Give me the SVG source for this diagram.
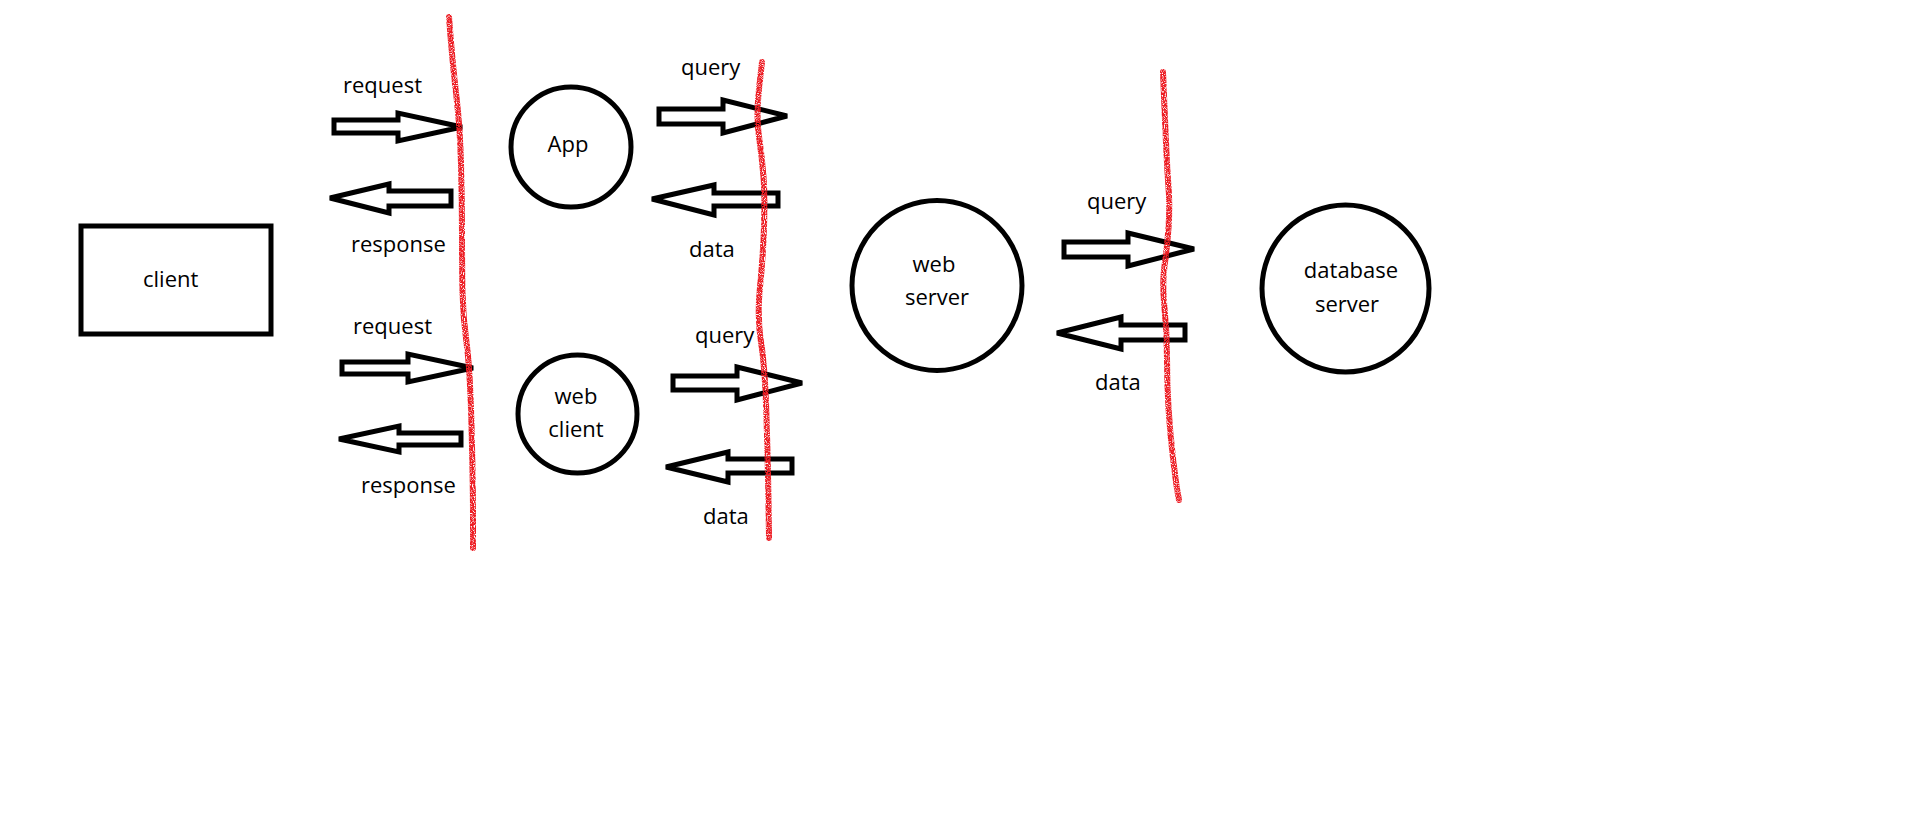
<svg xmlns="http://www.w3.org/2000/svg" width="1914" height="824" viewBox="0 0 1914 824">
<style>
  .shape { fill: #ffffff; stroke: #000000; stroke-width: 5; }
  .arrow { fill: #ffffff; stroke: #000000; stroke-width: 5; stroke-linejoin: miter; }
  .lbl { font-family: "Open Sans", "Noto Sans", sans-serif; font-size: 22px; fill: #000000; }
  .mid { text-anchor: middle; }
  .boundary { fill: none; stroke: #ed1c24; stroke-width: 6; stroke-linecap: round; stroke-linejoin: round; filter: url(#spray); }
</style>
<defs>
  <filter id="spray" x="-200%" y="-5%" width="500%" height="110%">
    <feTurbulence type="fractalNoise" baseFrequency="0.9" numOctaves="1" seed="4" result="n"/>
    <feColorMatrix in="n" type="matrix" values="0 0 0 0 0  0 0 0 0 0  0 0 0 0 0  0 0 0 -4 2.9" result="m"/>
    <feComposite in="SourceGraphic" in2="m" operator="in"/>
  </filter>
</defs>
<rect width="1914" height="824" fill="#ffffff"/>

<g id="client">
  <rect class="shape" x="81" y="226" width="190" height="108"/>
  <text class="lbl" x="143" y="287">client</text>
</g>
<g id="app">
  <circle class="shape" cx="571" cy="147" r="60"/>
  <text class="lbl mid" x="568" y="152">App</text>
</g>
<g id="web-client">
  <ellipse class="shape" cx="577.5" cy="414" rx="59.5" ry="59"/>
  <text class="lbl mid" x="576" y="404">web</text>
  <text class="lbl mid" x="576" y="437">client</text>
</g>
<g id="web-server">
  <circle class="shape" cx="937" cy="285.5" r="85"/>
  <text class="lbl mid" x="934" y="272">web</text>
  <text class="lbl mid" x="937" y="305">server</text>
</g>
<g id="database-server">
  <circle class="shape" cx="1345.5" cy="288.5" r="83.5"/>
  <text class="lbl mid" x="1351" y="278">database</text>
  <text class="lbl mid" x="1347" y="312">server</text>
</g>

<g id="connectors">
  <!-- client <-> App -->
  <polygon class="arrow" points="334,120 398,120 398,113 462,127 398,141 398,133 334,133"/>
  <text class="lbl" x="343" y="93">request</text>
  <polygon class="arrow" points="451,191 389,191 389,184 330,198 389,213 389,206 451,206"/>
  <text class="lbl" x="351" y="252">response</text>
  <!-- client <-> web client -->
  <polygon class="arrow" points="342,362 408,362 408,354 473,368 408,382 408,374 342,374"/>
  <text class="lbl" x="353" y="334">request</text>
  <polygon class="arrow" points="461,433 399,433 399,426 339,439 399,452 399,445 461,445"/>
  <text class="lbl" x="361" y="493">response</text>
  <!-- App <-> web server -->
  <polygon class="arrow" points="659,109 723,109 723,100 787,116 723,133 723,124 659,124"/>
  <text class="lbl" x="681" y="75">query</text>
  <polygon class="arrow" points="778,193 714,193 714,185 652,199 714,215 714,206 778,206"/>
  <text class="lbl" x="689" y="257">data</text>
  <!-- web client <-> web server -->
  <polygon class="arrow" points="673,376 737,376 737,367 802,383 737,400 737,390 673,390"/>
  <text class="lbl" x="695" y="343">query</text>
  <polygon class="arrow" points="792,459 728,459 728,452 666,467 728,482 728,473 792,473"/>
  <text class="lbl" x="703" y="524">data</text>
  <!-- web server <-> database server -->
  <polygon class="arrow" points="1064,242 1128,242 1128,233 1194,249 1128,266 1128,257 1064,257"/>
  <text class="lbl" x="1087" y="209">query</text>
  <polygon class="arrow" points="1185,325 1121,325 1121,317 1057,333 1121,349 1121,340 1185,340"/>
  <text class="lbl" x="1095" y="390">data</text>
</g>

<g id="boundaries">
  <path class="boundary" d="M449,17 L451,42 Q453,67 456.5,97 Q460,127 461,163.5 Q462,200 462,233.5 Q462,267 462.5,292 Q463,317 466.5,342.5 Q470,368 471.5,425.5 Q473,483 473,515.5 L473,548"/>
  <path class="boundary" d="M762,62 L759,89 Q756,116 759,136.5 Q762,157 763.5,177 Q765,197 764,227 Q763,257 760,287 Q757,317 761,342 Q765,367 766.5,417 Q768,467 768.5,502.5 L769,538"/>
  <path class="boundary" d="M1163,72 L1165,119.5 Q1167,167 1168.5,187 Q1170,207 1168.5,228 Q1167,249 1164.5,266 Q1162,283 1164.5,308 Q1167,333 1167,358 Q1167,383 1168.5,408 Q1170,433 1173,458 Q1176,483 1177.5,491.5 L1179,500"/>
</g>
</svg>
